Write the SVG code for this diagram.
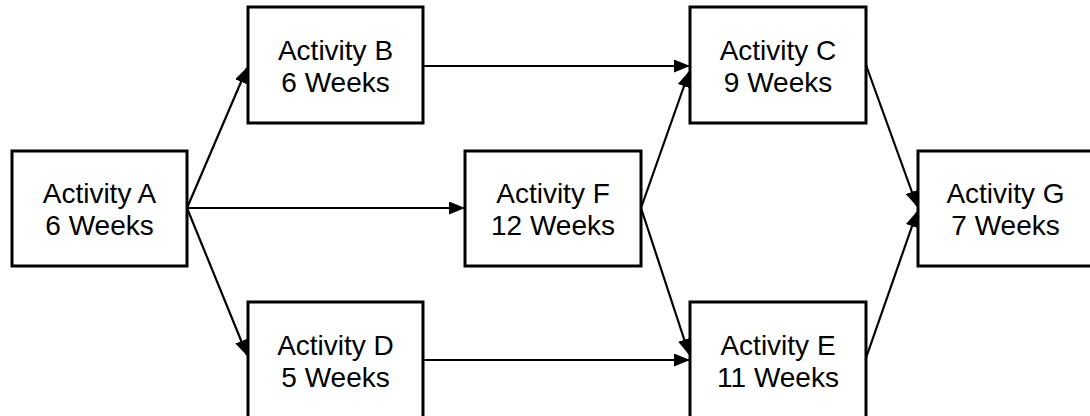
<svg xmlns="http://www.w3.org/2000/svg" width="1090" height="416" viewBox="0 0 1090 416">
<style>
.box{fill:#fff;stroke:#000;stroke-width:3}
.lbl{font-family:"Liberation Sans",Arial,sans-serif;font-size:28px;fill:#000;text-anchor:middle}
.c{stroke:#000;stroke-width:2.2;fill:none;marker-end:url(#ah)}
</style>
<defs>
<marker id="ah" markerUnits="userSpaceOnUse" markerWidth="16" markerHeight="13" refX="15" refY="6.5" orient="auto">
<path d="M0,0 L16,6.5 L0,13 z" fill="#000"/>
</marker>
</defs>
<rect width="1090" height="416" fill="#fff"/>
<g id="connectors">
<line class="c" x1="187" y1="208" x2="247" y2="68"/>
<line class="c" x1="187" y1="208" x2="464" y2="208"/>
<line class="c" x1="187" y1="208" x2="247" y2="355"/>
<line class="c" x1="423" y1="66" x2="689" y2="66"/>
<line class="c" x1="641" y1="208" x2="689" y2="72"/>
<line class="c" x1="641" y1="208" x2="689" y2="354"/>
<line class="c" x1="423" y1="360" x2="689" y2="360"/>
<line class="c" x1="866" y1="65" x2="917" y2="206"/>
<line class="c" x1="866" y1="358" x2="917" y2="212"/>
</g>
<g id="nodeA"><rect class="box" x="12" y="151" width="175" height="115"/><text class="lbl" x="99.5" y="203">Activity A</text><text class="lbl" x="99.5" y="235">6 Weeks</text></g>
<g id="nodeB"><rect class="box" x="248" y="7" width="175" height="116"/><text class="lbl" x="335.5" y="59.5">Activity B</text><text class="lbl" x="335.5" y="91.5">6 Weeks</text></g>
<g id="nodeD"><rect class="box" x="248" y="302" width="175" height="116"/><text class="lbl" x="335.5" y="354.5">Activity D</text><text class="lbl" x="335.5" y="386.5">5 Weeks</text></g>
<g id="nodeF"><rect class="box" x="465" y="151" width="176" height="115"/><text class="lbl" x="553" y="203">Activity F</text><text class="lbl" x="553" y="235">12 Weeks</text></g>
<g id="nodeC"><rect class="box" x="690" y="7" width="176" height="116"/><text class="lbl" x="778" y="59.5">Activity C</text><text class="lbl" x="778" y="91.5">9 Weeks</text></g>
<g id="nodeE"><rect class="box" x="690" y="302" width="176" height="116"/><text class="lbl" x="778" y="354.5">Activity E</text><text class="lbl" x="778" y="386.5">11 Weeks</text></g>
<g id="nodeG"><rect class="box" x="918" y="151" width="175" height="115"/><text class="lbl" x="1005.5" y="203">Activity G</text><text class="lbl" x="1005.5" y="235">7 Weeks</text></g>
</svg>
